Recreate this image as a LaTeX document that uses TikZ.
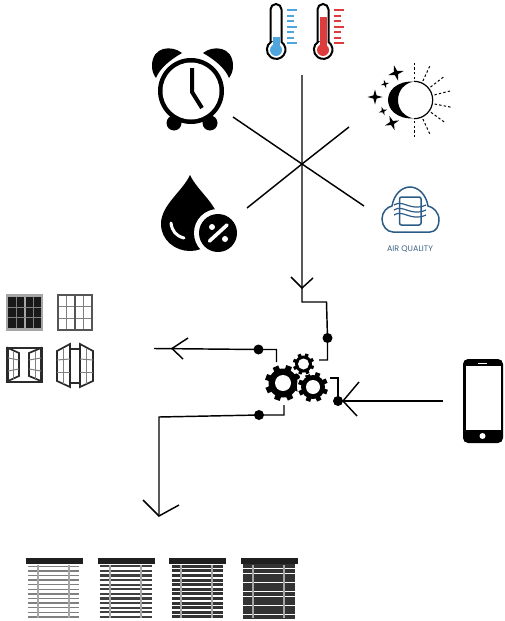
\documentclass[tikz,border=0pt]{standalone}
\usepackage{fontspec}
\newfontfamily\labelfont{Poppins}
\definecolor{coldblue}{HTML}{4FA6DC}
\definecolor{hotred}{HTML}{DD3C3C}
\definecolor{cloudblue}{HTML}{2C5C86}
\definecolor{framegray}{HTML}{555555}

\begin{document}
\begin{tikzpicture}[
  x=1pt,y=-1pt,
  wire/.style={line width=1.45pt},
  pin/.style={fill=black},
  glass/.style={draw=black,line width=2pt,fill=white},
  sunray/.style={line width=1pt,dash pattern=on 2.4pt off 2.2pt},
  muntin/.style={draw=gray,line width=1pt},
  sash/.style={draw=framegray!50!black,line width=1.7pt,fill=white},
  cord/.style={draw=gray!70,line width=1.2pt},
]

\useasboundingbox (0,0) rectangle (504,621);

\coordinate (hub) at (302,164);
\coordinate (thermEnd) at (302,75);
\coordinate (clockEnd) at (233,117);
\coordinate (sunEnd) at (349,127);
\coordinate (dropEnd) at (247,208);
\coordinate (airEnd) at (364,206);
\coordinate (inTip) at (302,288);
\coordinate (inBarbL) at (291,277);
\coordinate (inBarbR) at (313,278);
\coordinate (inCornerA) at (302,302);
\coordinate (inCornerB) at (326.5,302);
\coordinate (inPin) at (327.5,338);
\coordinate (inCornerC) at (327.5,360);
\coordinate (inStub) at (319,360);
\coordinate (winPin) at (258.5,349.5);
\coordinate (winEnd) at (154,348.5);
\coordinate (winTip) at (172,348.5);
\coordinate (winBarbA) at (188,338);
\coordinate (winBarbB) at (183,359);
\coordinate (winCorner) at (276.5,349.5);
\coordinate (winStub) at (276.5,362);
\coordinate (blindPin) at (259,415);
\coordinate (blindCornerA) at (159,417);
\coordinate (blindTip) at (159,516);
\coordinate (blindBarbA) at (143,500);
\coordinate (blindBarbB) at (179,505);
\coordinate (blindCornerB) at (284,415);
\coordinate (blindStub) at (284,405);
\coordinate (phoneEnd) at (443,401);
\coordinate (phoneTip) at (343,401);
\coordinate (phoneBarbA) at (359,382);
\coordinate (phoneBarbB) at (357,416);
\coordinate (phonePin) at (338,401);
\coordinate (phoneCorner) at (338,378);
\coordinate (phoneStub) at (330,378);

\draw [wire] (thermEnd) -- (inTip) -- (inCornerA) -- (inCornerB) -- (inPin) -- (inCornerC) -- (inStub);
\draw [wire] (inBarbL) -- (inTip) -- (inBarbR);
\draw [wire] (clockEnd) -- (hub) -- (airEnd);
\draw [wire] (dropEnd) -- (hub) -- (sunEnd);
\draw [wire] (winEnd) -- (winPin) -- (winCorner) -- (winStub);
\draw [wire] (winBarbA) -- (winTip) -- (winBarbB);
\draw [wire] (blindStub) -- (blindCornerB) -- (blindPin) -- (blindCornerA) -- (blindTip);
\draw [wire] (blindBarbA) -- (blindTip) -- (blindBarbB);
\draw [wire] (phoneEnd) -- (phonePin) -- (phoneCorner) -- (phoneStub);
\draw [wire] (phoneBarbA) -- (phoneTip) -- (phoneBarbB);
\path [pin] (inPin) circle [radius=5];
\path [pin] (winPin) circle [radius=5];
\path [pin] (blindPin) circle [radius=5];
\path [pin] (phonePin) circle [radius=5];

\foreach \gx/\gy/\rb/\rt/\rh/\tw in {283/383/14.5/3.5/8/6,313/387/12/3/7/4.8,303.5/364/8.5/2.2/5.5/3.4} {
  \fill [white] (\gx,\gy) circle [radius=\rb+\rt+1];
  \foreach \a in {0,45,...,315}
    \draw [line width=\tw pt] (\gx,\gy) ++(\a+20:\rb-1) -- ++(\a+20:\rt+1);
  \fill (\gx,\gy) circle [radius=\rb];
  \fill [white] (\gx,\gy) circle [radius=\rh];
}

\foreach \tx/\tc/\ty in {276/coldblue/37,323/hotred/17} {
  \draw [glass] ({\tx-5.5},42) -- ({\tx-5.5},9.5) arc [start angle=180,end angle=360,radius=5.5] -- ({\tx+5.5},42)
    arc [start angle=-55,end angle=235,radius=9.3] -- cycle;
  \fill [\tc] ({\tx-3.5},\ty) rectangle ({\tx+3.5},46);
  \fill [\tc] (\tx,50) circle [radius=6];
  \foreach \y/\w in {10/10,16/7,21/7,27/10,32/7,38/7,43/10}
    \draw [\tc,line width=1.4pt] ({\tx+11},\y) -- ({\tx+11+\w},\y);
}

\fill (174,123) circle [radius=7.5];
\fill (210,123) circle [radius=7.5];
\fill (191,91) circle [radius=33];
\fill [white] (191,91) circle [radius=28.5];
\draw [line width=4pt] (192,68) -- (192,92) -- (202,108);
\fill (182,53) .. controls (172,45) and (152,46) .. (152,66) .. controls (152,70) and (153,74) .. (156,78) .. controls (160,68) and (170,60) .. (182,53) -- cycle;
\fill (203,53) .. controls (213,45) and (233,46) .. (233,66) .. controls (233,70) and (232,74) .. (229,78) .. controls (225,68) and (215,60) .. (203,53) -- cycle;

\fill (190,175) .. controls (182,192) and (161,205) .. (161,224) .. controls (161,240) and (175,251) .. (190,251) .. controls (205,251) and (219,240) .. (219,224) .. controls (219,205) and (198,192) .. (190,175) -- cycle;
\fill [white] (218,233) circle [radius=24];
\fill (218,233) circle [radius=19];
\draw [white,line width=3pt,line cap=round] (171,223) .. controls (172,231) and (176,236) .. (184,238);
\draw [white,line width=3.6pt,line cap=round] (209.5,241) -- (227,225);
\fill [white] (212,227) circle [radius=3];
\fill [white] (225,239) circle [radius=3];

\draw [line width=1.2pt] (414,81.3) arc [start angle=-90,end angle=90,radius=18.7];
\fill (414,81.5) .. controls (396,81) and (388,91) .. (388,100) .. controls (388,109) and (396,119) .. (414,118.5) .. controls (405,117) and (398,110) .. (398,100) .. controls (398,90) and (405,83) .. (414,81.5) -- cycle;
\foreach \a in {-90,-65,-38,-14,11,36,65,90}
  \draw [sunray] (414,100) ++(\a:21) -- ++(\a:17);
\foreach \sx/\sy/\sr/\rot in {396/73/8/15,385/84/4.5/15,375/97/7.5/0,383/111/4.5/20,392/123/7.5/20}
  \fill [shift={(\sx,\sy)},rotate=\rot] (0:\sr) -- (45:0.3*\sr) -- (90:\sr) -- (135:0.3*\sr) -- (180:\sr) -- (225:0.3*\sr) -- (270:\sr) -- (315:0.3*\sr) -- cycle;

\draw [cloudblue,line width=1.5pt] (393,232) -- (430,232) .. controls (436,232) and (439,226) .. (439,220) .. controls (439,212) and (433,207) .. (428,206) .. controls (426,194) and (418,187) .. (410,187) .. controls (402,187) and (394,194) .. (392,206) .. controls (387,207) and (382,212) .. (382,219) .. controls (382,226) and (387,232) .. (393,232) -- cycle;
\draw [cloudblue,line width=1.5pt,rounded corners=2pt] (399.5,197) rectangle (421,225);
\foreach \y in {0,5,10}
  \draw [cloudblue,line width=1.2pt] (394,{205+\y}) .. controls (403,{199+\y}) and (411,{212+\y}) .. (426,{205+\y});
\node (airLabel) at (410,249) {\labelfont\fontsize{8}{9}\selectfont\color{cloudblue!80!gray}AIR QUALITY};

\fill [gray!70] (6,294) rectangle (43,331);
\fill [black!90] (8,297) rectangle (23.5,328);
\fill [black!90] (26,297) rectangle (41,328);
\foreach \y in {307,317.5}
  \draw [muntin] (8,\y) -- (41,\y);
\foreach \x in {16,33.5}
  \draw [muntin] (\x,297) -- (\x,328);

\foreach \x in {66.5,83.5}
  \draw [muntin] (\x,295) -- (\x,330);
\foreach \y in {306.5,318}
  \draw [muntin] (58,\y) -- (92,\y);
\draw [framegray,line width=2.4pt] (58,295) rectangle (92,330);
\draw [framegray,line width=2.6pt] (75,295) -- (75,330);

\draw [framegray!50!black,line width=1.7pt] (7,348) rectangle (42,382);
\draw [sash] (8,348) -- (19,353) -- (19,376) -- (8,381) -- cycle;
\draw [sash] (41,348) -- (29,353) -- (29,376) -- (41,381) -- cycle;
\draw [muntin] (13.5,351) -- (13.5,378.5);
\draw [muntin] (8,358) -- (19,360);
\draw [muntin] (8,371) -- (19,369);
\draw [muntin] (35.5,351) -- (35.5,378.5);
\draw [muntin] (41,358) -- (29,360);
\draw [muntin] (41,371) -- (29,369);

\draw [framegray!50!black,line width=1.7pt] (70,349) rectangle (80,383);
\draw [sash] (57,351) -- (70,344) -- (70,387) -- (57,381) -- cycle;
\draw [sash] (93,351) -- (80,344) -- (80,387) -- (93,381) -- cycle;
\draw [muntin] (63.5,348) -- (63.5,384);
\draw [muntin] (57,360) -- (70,359);
\draw [muntin] (57,372) -- (70,372);
\draw [muntin] (86.5,348) -- (86.5,384);
\draw [muntin] (93,360) -- (80,359);
\draw [muntin] (93,372) -- (80,372);

\fill [rounded corners=5pt] (463,359) rectangle (503,443);
\fill [white] (465.5,366) rectangle (500.5,430);
\draw [white,line width=0.9pt] (478,363) -- (487,363);
\fill [white] (482.5,436) circle [radius=3];

\foreach \bx/\bl/\br/\sw/\sc in {26/2/53/1.4/gray,98/2/54/2.3/black!75,169/3/54/3/black!80,241/2/54/4/black!80} {
  \foreach \n in {0,...,11}
    \draw [line width=\sw pt,\sc] ({\bx+\bl},{566.3+4.6*\n}) -- ({\bx+\br},{566.3+4.6*\n});
  \draw [cord] ({\bx+12},565) -- ({\bx+12},618);
  \draw [cord] ({\bx+43},565) -- ({\bx+43},618);
  \fill [black!88] (\bx,558) rectangle ({\bx+56.5},564.2);
}

\end{tikzpicture}
\end{document}
